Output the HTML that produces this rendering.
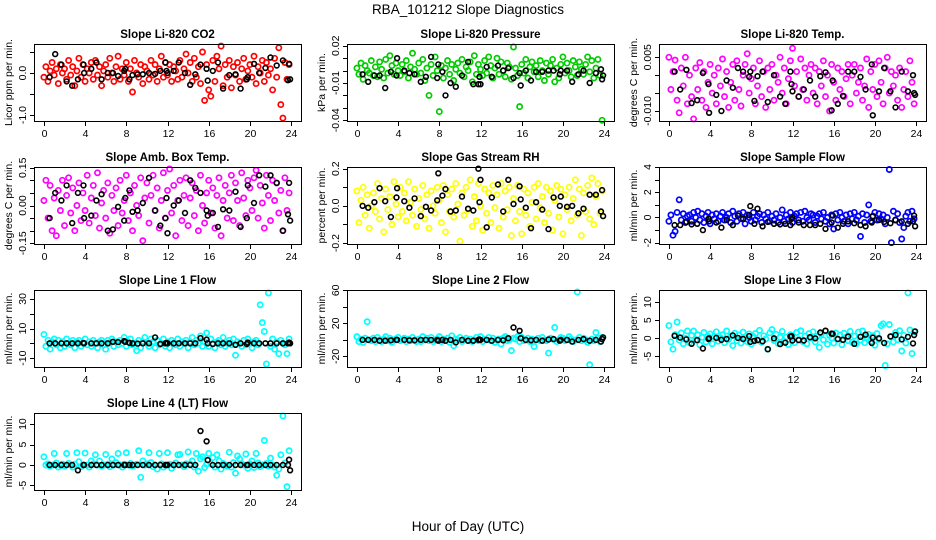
<!DOCTYPE html>
<html><head><meta charset="utf-8"><style>
html,body{margin:0;padding:0;background:#fff;}
svg{display:block;font-family:"Liberation Sans",Arial,sans-serif;}
</style></head><body>
<svg id="chart" width="936" height="540" viewBox="0 0 936 540" xmlns="http://www.w3.org/2000/svg">
<text x="468" y="14" text-anchor="middle" font-size="13.5">RBA_101212  Slope Diagnostics</text>
<text x="468" y="531" text-anchor="middle" font-size="13.5">Hour of Day (UTC)</text>
</svg>
<script>
const hours=[0.0,0.2,0.4,0.6,0.8,1.0,1.2,1.4,1.6,1.8,2.0,2.2,2.4,2.6,2.8,3.0,3.2,3.4,3.6,3.8,4.0,4.2,4.4,4.6,4.8,5.0,5.2,5.4,5.6,5.8,6.0,6.2,6.4,6.6,6.8,7.0,7.2,7.4,7.6,7.8,8.0,8.2,8.4,8.6,8.8,9.0,9.2,9.4,9.6,9.8,10.0,10.2,10.4,10.6,10.8,11.0,11.2,11.4,11.6,11.8,12.0,12.2,12.4,12.6,12.8,13.0,13.2,13.4,13.6,13.8,14.0,14.2,14.4,14.6,14.8,15.0,15.2,15.4,15.6,15.8,16.0,16.2,16.4,16.6,16.8,17.0,17.2,17.4,17.6,17.8,18.0,18.2,18.4,18.6,18.8,19.0,19.2,19.4,19.6,19.8,20.0,20.2,20.4,20.6,20.8,21.0,21.2,21.4,21.6,21.8,22.0,22.2,22.4,22.6,22.8,23.0,23.2,23.4,23.6,23.8];
const blackHours=[0.55,1.1,1.7,2.2,2.75,3.3,3.85,3.9,4.6,5.1,5.6,6.2,6.7,7.2,7.8,7.9,8.3,8.6,9.1,9.6,10.2,10.8,11.3,11.8,11.9,12.0,12.6,13.1,13.7,14.2,14.7,15.2,15.8,15.9,16.4,16.9,17.4,18.0,18.6,19.1,19.7,19.8,20.4,20.9,21.5,22.0,22.6,23.2,23.7,23.8,23.9];
const xTicks=[0,4,8,12,16,20,24];

const co2=[-0.1,0.15,-0.2,0.05,0.25,-0.05,0.1,-0.25,0.2,0.0, 0.1,-0.15,0.3,-0.05,0.15,-0.3,0.05,0.35,-0.1,0.2, -0.2,0.1,0.0,0.25,-0.15,0.3,-0.05,0.15,-0.3,0.05, 0.2,-0.1,0.35,0.0,-0.2,0.15,0.4,-0.15,0.1,-0.05, 0.25,-0.2,0.1,-0.45,0.3,0.0,-0.1,0.2,-0.25,0.15, 0.05,-0.15,0.3,-0.05,0.2,-0.2,0.1,0.4,-0.1,0.25, -0.05,0.2,-0.2,0.15,0.05,-0.15,0.3,-0.1,0.1,0.45, 0.0,0.25,-0.2,0.35,-0.1,0.15,-0.25,0.5,-0.65,0.2, -0.4,-0.55,0.3,-0.2,0.4,0.1,0.64,-0.3,0.2,-0.1, 0.3,-0.35,0.15,-0.05,0.25,-0.2,0.1,0.35,-0.15,0.05, 0.2,-0.1,0.4,-0.25,0.15,0.0,0.3,-0.2,0.25,-0.05, 0.1,-0.4,0.35,-0.1,0.6,-0.75,-1.07,0.25,-0.15,0.2];
const co2Black=[-0.1,0.45,0.2,-0.2,-0.3,-0.15,0.2,0.0,0.1,0.25,-0.15,0.0,0.0,-0.07,0.05,0.1,-0.15,-0.05,-0.03,-0.03,0.0,-0.02,0.05,0.25,0.05,0.0,0.05,0.25,0.0,-0.28,-0.03,0.2,0.1,-0.18,0.05,0.25,-0.37,-0.05,-0.03,-0.37,-0.15,-0.1,0.22,0.0,0.12,0.37,0.18,0.3,-0.17,0.22,-0.15];

const pres=[0.002,-0.003,0.006,-0.007,0.004,0.0,-0.002,0.008,-0.004,0.003, -0.005,0.007,0.001,-0.006,0.009,-0.002,0.012,0.004,-0.003,0.006, 0.0,-0.004,0.005,-0.001,0.008,-0.006,0.003,0.014,0.001,-0.003, 0.006,-0.002,0.009,-0.008,0.002,-0.02,0.005,-0.004,0.011,0.0, -0.033,0.004,-0.006,0.002,0.008,-0.003,0.005,-0.008,0.001,0.006, -0.002,0.009,-0.005,0.003,0.0,0.007,-0.009,0.012,-0.003,0.005, 0.001,-0.004,0.008,-0.002,0.011,0.004,-0.006,0.002,0.01,-0.003, 0.007,0.0,-0.005,0.006,0.003,-0.007,0.019,0.002,-0.004,-0.029, 0.005,-0.002,0.009,-0.006,0.003,0.007,-0.001,0.004,-0.005,0.008, 0.0,-0.008,0.006,-0.003,0.004,0.009,-0.009,0.002,-0.006,0.005, 0.011,-0.002,0.006,0.0,-0.005,0.008,0.003,-0.004,0.007,0.001, -0.003,0.005,0.011,-0.001,0.008,-0.006,0.002,0.009,-0.004,-0.04];
const presBlack=[-0.003,-0.009,-0.004,-0.004,-0.014,-0.001,-0.004,0.01,0.0,-0.002,-0.003,-0.009,-0.005,0.011,-0.006,0.005,-0.001,-0.02,-0.01,-0.013,-0.004,0.007,-0.011,-0.011,-0.005,-0.011,0.003,-0.005,0.004,0.0,0.002,-0.006,-0.002,-0.012,0.0,-0.008,-0.001,-0.001,0.0,0.0,-0.003,0.0,0.0,-0.009,-0.003,0.0,-0.01,-0.002,0.001,-0.007,-0.004];

const temp=[0.005,-0.004,0.001,0.0042,-0.007,-0.0105,0.002,-0.003,0.005,-0.008, 0.0,-0.006,-0.0122,0.002,-0.004,0.0035,-0.007,0.001,-0.009,-0.002, 0.003,-0.005,0.0,-0.008,0.002,-0.003,0.0045,-0.006,0.001,-0.009, -0.002,0.003,-0.007,0.004,-0.004,-0.0086,0.0,0.003,0.006,-0.005, -0.001,0.002,-0.008,-0.003,0.004,-0.006,0.001,-0.009,0.002,-0.004, 0.003,-0.007,0.0,-0.002,0.005,-0.005,0.002,-0.008,-0.001,0.004, 0.0075,-0.003,0.001,-0.006,0.0045,-0.004,0.002,-0.007,0.0,0.003, -0.005,0.002,-0.008,0.001,-0.003,0.004,-0.006,0.0,-0.01,0.003, -0.002,-0.007,0.002,-0.004,0.001,-0.006,-0.001,0.003,-0.008,0.0, 0.003,-0.005,-0.002,0.002,-0.007,-0.003,0.0045,-0.009,0.001,-0.004, 0.003,-0.006,0.004,-0.002,-0.008,0.002,0.005,-0.005,0.001,-0.003, 0.0,-0.007,0.002,-0.009,-0.004,0.001,-0.006,0.004,-0.002,-0.008];
const tempBlack=[0.001,-0.004,0.0015,-0.0078,-0.007,0.0006,-0.0025,-0.0105,-0.0055,-0.01,-0.0015,-0.0035,0.002,0.001,-0.0005,0.001,-0.0072,-0.0003,0.001,-0.0075,0.0,-0.006,-0.008,0.001,-0.0025,-0.0045,-0.006,-0.004,-0.0015,-0.006,-0.0003,0.0008,-0.0098,-0.0015,-0.008,-0.0058,0.001,0.001,-0.0005,-0.004,0.003,-0.0112,-0.0045,0.002,-0.0045,-0.009,0.001,-0.0045,0.0,-0.005,-0.0055];

const amb=[0.02,0.1,-0.05,0.08,-0.1,0.03,-0.12,0.06,-0.02,0.1, -0.08,0.04,0.11,-0.03,0.07,-0.1,0.0,0.09,-0.06,0.05, -0.02,0.12,-0.07,0.03,0.08,-0.04,0.13,-0.09,0.01,0.06, -0.05,0.09,-0.11,0.04,-0.02,0.07,-0.08,0.1,-0.03,0.02, 0.12,-0.06,0.05,-0.1,0.08,0.0,-0.04,0.11,-0.14,0.03, 0.09,-0.07,0.04,0.12,-0.02,0.07,-0.09,0.02,0.13,-0.05, 0.06,0.145,-0.03,0.08,-0.12,0.02,0.1,-0.06,0.04,0.11, -0.08,0.03,0.09,-0.04,0.06,-0.1,0.12,0.0,-0.07,0.05, 0.1,-0.03,0.07,-0.09,0.04,0.11,-0.12,0.02,0.08,-0.05, 0.05,0.12,-0.06,0.09,0.02,-0.08,0.13,0.03,-0.04,0.1, 0.07,-0.02,0.11,0.14,-0.05,0.08,0.01,-0.09,0.12,0.04, -0.06,0.1,0.02,0.09,-0.03,0.06,-0.1,0.11,-0.02,0.05];
const ambBlack=[-0.05,0.05,0.02,0.08,-0.07,0.05,0.08,-0.05,-0.04,0.02,0.045,-0.1,-0.095,-0.005,-0.06,0.03,0.06,-0.025,-0.02,0.01,0.11,-0.02,-0.08,-0.05,0.03,-0.11,0.0,0.02,-0.03,0.1,0.07,0.05,-0.02,-0.04,-0.03,-0.085,-0.015,-0.02,0.055,-0.085,-0.05,0.08,0.01,0.12,0.075,0.12,0.09,-0.1,-0.035,0.09,-0.06];

const rh=[0.08,-0.09,0.03,0.1,-0.05,0.06,-0.12,0.0,0.07,-0.03, 0.12,-0.07,0.04,-0.14,0.09,-0.02,0.05,-0.1,0.13,0.01, -0.06,0.1,-0.03,0.07,-0.08,0.13,0.02,-0.05,0.09,-0.11, 0.04,-0.02,0.11,-0.07,0.06,-0.12,0.08,0.0,-0.04,0.1, 0.03,-0.09,0.11,-0.14,0.06,-0.03,0.09,-0.06,0.12,0.01, -0.19,0.07,-0.05,0.1,-0.02,0.14,-0.11,0.05,-0.08,0.12, 0.0,-0.13,0.09,-0.04,0.07,-0.09,0.11,-0.01,0.06,-0.12, 0.12,-0.06,0.08,-0.02,0.1,-0.16,0.04,-0.08,0.11,-0.03, -0.15,0.09,-0.05,0.07,-0.11,0.02,0.1,-0.07,0.12,-0.01, 0.05,-0.09,0.1,-0.04,0.08,-0.13,0.03,0.11,-0.06,0.09, -0.15,0.06,-0.02,0.1,-0.08,0.04,0.14,-0.05,0.09,-0.16, 0.07,-0.03,0.11,-0.07,0.15,-0.1,0.05,0.12,-0.04,0.08];
const rhBlack=[0.0,-0.01,0.02,0.095,0.025,-0.06,0.045,0.095,0.025,-0.01,0.04,-0.055,-0.005,-0.025,0.03,0.175,0.055,0.09,-0.03,-0.025,0.05,-0.015,-0.025,0.2,0.02,0.14,-0.115,0.045,0.115,-0.03,0.14,0.01,0.105,0.035,-0.01,-0.12,0.02,-0.02,-0.125,0.045,0.0,0.05,-0.005,0.0,-0.04,-0.015,0.06,0.06,-0.03,0.085,-0.055];

const samp=[-0.3,0.2,-1.4,-1.1,0.4,1.4,-0.2,0.3,-0.4,0.1, 0.2,-0.3,0.4,0.0,0.5,-0.2,0.3,-0.4,0.1,0.4, -0.5,0.2,-0.1,0.3,-0.3,0.1,0.4,-0.2,0.0,0.3, -0.4,0.5,0.1,-0.3,0.3,-0.1,0.4,-0.5,0.2,0.0, -0.3,0.4,-0.2,0.1,0.3,-0.4,0.2,-0.1,0.4,-0.3, 0.1,-0.2,0.3,-0.4,0.0,0.6,-0.3,0.2,-0.1,0.4, -0.4,0.1,0.3,-0.2,0.4,-0.3,0.5,0.0,-0.2,0.3, 0.2,-0.4,0.1,0.3,-0.1,0.4,-0.3,0.0,-0.5,0.2, -0.9,0.3,-0.2,0.4,0.0,-0.3,0.2,-0.5,0.3,-0.1, 0.4,-0.2,0.1,-1.5,0.3,-0.4,0.2,1.0,-0.3,0.1, 0.4,-0.2,0.3,-0.1,0.2,-0.5,0.0,3.8,-2.0,0.5, -0.2,0.3,-0.4,-1.7,-0.8,0.1,0.4,-0.3,0.5,-0.1];
const sampBlack=[-0.6,-0.6,-0.35,-0.55,-0.5,-1.0,-0.1,-0.3,-0.4,-0.8,-0.2,-0.6,0.15,-0.1,0.2,0.9,-0.5,0.7,-0.7,-0.35,-0.5,-0.55,-0.5,-0.6,-0.1,0.0,-0.4,-0.6,-0.6,-0.6,-0.5,-0.9,-0.4,0.15,-0.8,-0.5,-0.3,-0.45,-0.6,-0.7,-0.4,0.1,-0.2,-0.35,-0.45,-0.2,-0.3,-0.5,-0.3,0.15,-0.7];

const l1=[6,-2,2,-4,1,3,-1,2,-3,1, -2,3,0,-1,2,-3,1,2,-2,0, 3,-1,1,-2,2,0,-3,1,2,-1, -4,2,0,3,-2,1,-1,2,0,4, -2,1,3,-1,0,-5,2,-3,1,4, 0,-2,3,1,-3,2,-1,0,3,-2, 1,-3,2,0,-1,3,-2,1,0,2, -3,1,4,-1,2,0,5,-2,1,7, -2,3,0,-3,1,2,-1,4,-2,0, 2,-1,3,-8,1,0,-2,2,-1,3, 0,-3,1,2,-1,26,14,8,-14,34, -2,3,-4,1,-7,2,0,-1,-7,3];
const l1Black=[0,0,0,0,0,0,0.3,0,0,0,0,0,1,0.8,1.5,1,0.3,0,-0.2,0,0,4,-0.5,0,0.3,0,0,0,0,0,0,3.5,2.5,0,-0.5,0,0,0,-1,0,-0.5,0.5,0,0,0,0,0,0,0,0.5,0];

const l2=[4,-2,1,-3,2,22,0,-1,2,-2, 3,0,-2,1,4,-1,2,-3,0,1, 3,-1,0,2,-2,1,-1,3,0,-2, 1,-2,4,0,2,-1,3,-2,0,1, 4,-2,1,-1,2,-3,5,-7,1,0, 3,-2,0,2,-1,1,-2,0,3,-1, 4,-2,1,0,3,-1,2,-3,0,1, -5,2,4,-1,0,-13,2,1,4,-2, 3,-1,0,2,-2,1,-8,0,2,-1, 3,0,-1,-16,2,1,15,-2,0,3, 2,-1,0,4,1,-2,0,58,3,-1, 2,0,-3,-30,1,-1,9,2,-2,3];
const l2Black=[0,0,0,-1,-1,-0.5,0,0,0,-0.5,-0.5,0,0,0,0,-1,0,-1,0,-3,0,-1,-1,0,0.5,0,0,-1,0,-0.5,2,15,11,2,0,-0.5,0,-1,0.5,1,-1,0,0,-2,0,1,-1,0,-2,1,3];

const l3=[3.5,-1,-3,1,4.5,-0.5,1.5,-1.5,0,2, -1.2,0.8,2,-0.5,1,-1.8,0.3,1.6,-1,0.5, 1.2,-1.5,0.4,1.8,-0.8,0.2,1,-1.2,2,-0.3, 0.6,-2,1.4,-0.7,0.9,-1.3,1.7,0,-0.9,1.2, -1.6,0.5,1.3,-0.4,2.2,-1.1,0.7,-0.2,-3,1.5, 2.4,-0.6,1.1,-1.4,0.3,1.9,-0.8,0.4,-1.7,1, 0.2,-1.2,1.6,-0.3,2.1,-0.9,0.6,-1.5,1.3,0, 1.8,-1,0.5,-2.5,1.2,-0.4,2,-1.6,0.8,0.1, -1.3,1.5,-0.2,0.9,-1.8,1.4,0.3,-0.7,1.9,-1.1, 0.6,-1.5,1.7,-0.5,2,-1.2,0.4,1.1,-0.8,0.7, -1.9,1.3,-0.3,3.5,4,-7.5,-1.5,3.8,0.5,-1, 1.6,-0.4,2.1,-3.5,0.8,-1.3,12.5,2.3,-4.2,1.8];
const l3Black=[0.7,0.2,-0.3,-1.5,-0.5,-2.8,-0.2,0,0.1,-0.4,-0.2,0.8,0.1,-0.2,0.6,-1,-0.7,-0.5,-0.8,-3,0,-1.6,-1.2,0.5,0.6,-0.6,-0.5,-0.6,0.3,0,1.6,2.1,1.3,1.2,-0.2,-0.4,0.5,-1.5,0.4,1.0,-1.3,0.2,0.0,-1.3,0.5,0.9,-0.3,0.4,-1.4,0.9,1.9];

const l4=[2,0,0.3,-0.3,0,2.8,0.5,-0.5,0,0.2, -0.3,2.8,0.4,0,-0.5,0.2,3,0.8,-0.4,0, 2.9,0,-0.5,1,0.3,2.5,0,1,-0.3,0, 2.6,0.2,-0.4,1.5,0,0.6,2.8,0,-0.5,0.2, 3,0,0.4,-0.3,0,0.2,3.5,-3,1,0, 0.3,3,0.6,-0.4,0,-1,2.8,0.3,-0.5,0, 3,0.2,-0.8,0,0.5,2.5,2.6,0,-0.4,0.3, 3.2,0.3,1,-0.5,2.8,-1.5,1.5,2,-0.6,0.2, 2.8,0.3,1.8,-0.5,2.5,1,-1,0.4,0,-0.3, 3.1,-0.5,0.6,-2,2.2,1.5,0.3,0,2.7,-0.8, 0.3,1,-0.6,2.8,0.5,-0.4,0,6,0.4,-0.3, 1.7,0,-0.5,-2.5,-1,2.5,12,0.5,-5.3,3.5];
const l4Black=[0,0,0,0,0,-1.3,0,0,0,0,0,0,0,0,0,0,0,0,0,0,0,0,0,0,0,0,0,0,0,0,0,8.3,5.8,1.2,0,0,0,0,0,0,0,0,0,0,0,0,0,0,0,1.3,-1.3];

const co2Ticks=[-1.0,-0.5,0.0,0.5], co2Labels=["-1.0","0.0"];
const presTicks=[-0.04,-0.03,-0.02,-0.01,0.0,0.01,0.02], presLabels=["-0.04","-0.01","0.02"];
const tempTicks=[-0.010,-0.005,0.0,0.005], tempLabels=["-0.010","0.005"];
const ambTicks=[-0.15,-0.10,-0.05,0.0,0.05,0.10,0.15], ambLabels=["-0.15","0.00","0.15"];
const rhTicks=[-0.2,-0.1,0.0,0.1,0.2], rhLabels=["-0.2","0.0","0.2"];
const sampTicks=[-2,-1,0,1,2,3,4], sampLabels=["-2","0","2","4"];
const l1Ticks=[-10,0,10,20,30], l1Labels=["-10","10","30"];
const l2Ticks=[-20,0,20,40,60], l2Labels=["-20","20","60"];
const l3Ticks=[-5,0,5,10], l3Labels=["-5","0","5","10"];
const l4Ticks=[-5,0,5,10], l4Labels=["-5","0","5","10"];

const panels=[
 {t:"Slope Li-820 CO2",yl:"Licor ppm per min.",c:"#ff0000",y:co2,b:co2Black,d:[-1.14,0.69],tk:co2Ticks,lb:co2Labels,n:"co2"},
 {t:"Slope Li-820 Pressure",yl:"kPa per min.",c:"#00cc00",y:pres,b:presBlack,d:[-0.0406,0.0214],tk:presTicks,lb:presLabels,n:"pressure"},
 {t:"Slope Li-820 Temp.",yl:"degrees C per min.",c:"#ff00ff",y:temp,b:tempBlack,d:[-0.0128,0.0087],tk:tempTicks,lb:tempLabels,n:"li820-temp"},
 {t:"Slope Amb. Box Temp.",yl:"degrees C per min.",c:"#ff00ff",y:amb,b:ambBlack,d:[-0.153,0.153],tk:ambTicks,lb:ambLabels,n:"amb-box-temp"},
 {t:"Slope Gas Stream RH",yl:"percent per min.",c:"#ffff00",y:rh,b:rhBlack,d:[-0.205,0.209],tk:rhTicks,lb:rhLabels,n:"gas-stream-rh"},
 {t:"Slope Sample Flow",yl:"ml/min per min.",c:"#0000ff",y:samp,b:sampBlack,d:[-2.1,4.0],tk:sampTicks,lb:sampLabels,n:"sample-flow"},
 {t:"Slope Line 1 Flow",yl:"ml/min per min.",c:"#00ffff",y:l1,b:l1Black,d:[-16,36],tk:l1Ticks,lb:l1Labels,n:"line1-flow"},
 {t:"Slope Line 2 Flow",yl:"ml/min per min.",c:"#00ffff",y:l2,b:l2Black,d:[-32.8,60.4],tk:l2Ticks,lb:l2Labels,n:"line2-flow"},
 {t:"Slope Line 3 Flow",yl:"ml/min per min.",c:"#00ffff",y:l3,b:l3Black,d:[-7.9,13.3],tk:l3Ticks,lb:l3Labels,n:"line3-flow"},
 {t:"Slope Line 4 (LT) Flow",yl:"ml/min per min.",c:"#00ffff",y:l4,b:l4Black,d:[-6.1,12.7],tk:l4Ticks,lb:l4Labels,n:"line4-flow"}
];
const NS="http://www.w3.org/2000/svg";
const svg=document.getElementById("chart");
const colL=[34,347,659], W=267, H=77;
function mk(tag,attrs,parent){const e=document.createElementNS(NS,tag);for(const k in attrs)e.setAttribute(k,attrs[k]);parent.appendChild(e);return e;}
panels.forEach((p,i)=>{
 const L=colL[i%3], T=44+Math.floor(i/3)*123, B=T+H, R=L+W;
 const xs=h=>L+(h+0.96)/25.92*W;
 const ys=v=>B-(v-p.d[0])/(p.d[1]-p.d[0])*H;
 const g=mk("g",{},svg);
 
 
 const tt=mk("text",{x:(L+R)/2,y:T-6,"text-anchor":"middle","font-size":"11.5","font-weight":"bold"},g);
 tt.textContent=p.t;
 
 
 const yt=mk("text",{transform:`translate(${L-22},${(T+B)/2}) rotate(-90)`,"text-anchor":"middle","font-size":"10.5"},g);
 yt.textContent=p.yl;
 
 
 const pts=mk("g",{fill:"none",stroke:p.c,"stroke-width":"1.7"},g);
 
 
 const n=Math.min(hours.length,p.y.length);
 for(let k=0;k<n;k++){const c=mk("circle",{cx:xs(hours[k]).toFixed(1),cy:ys(p.y[k]).toFixed(1),r:"2.6"},pts);
  
  }
 const bp=mk("g",{fill:"none",stroke:"#000","stroke-width":"1.6"},g);
 
 
 const nb=Math.min(blackHours.length,p.b.length);
 for(let k=0;k<nb;k++){const c=mk("circle",{cx:xs(blackHours[k]).toFixed(1),cy:ys(p.b[k]).toFixed(1),r:"2.4"},bp);
  
  }
 const box=mk("rect",{x:L+0.5,y:T+0.5,width:W,height:H,fill:"none",stroke:"#000","stroke-width":"1"},g);
 
 
 const ax=mk("g",{stroke:"#000","stroke-width":"1"},g);
 
 
 xTicks.forEach(h=>{const x=Math.round(xs(h))+0.5;mk("line",{x1:x,x2:x,y1:B,y2:B+5},ax);
  const lt=mk("text",{x:x,y:B+16,"text-anchor":"middle","font-size":"10.5",stroke:"none",fill:"#000"},ax);lt.textContent=String(h);
  
  });
 const ay=mk("g",{stroke:"#000","stroke-width":"1"},g);
 
 
 p.tk.forEach(v=>{const y=Math.round(ys(v))+0.5;mk("line",{x1:L-4,x2:L,y1:y,y2:y},ay);});
 p.lb.forEach(s=>{const y=ys(parseFloat(s));
  const lt=mk("text",{transform:`translate(${L-8},${y}) rotate(-90)`,"text-anchor":"middle","font-size":"10.5",stroke:"none",fill:"#000"},ay);lt.textContent=s;
  
  });
});
</script>
</body></html>
